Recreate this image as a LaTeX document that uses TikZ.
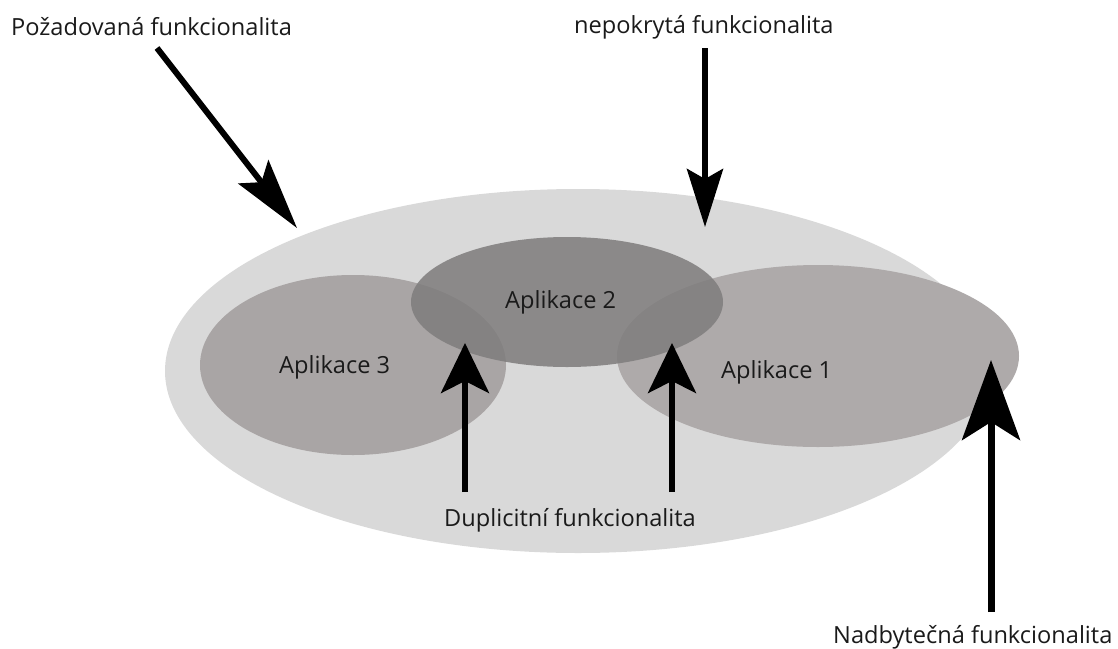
\documentclass[tikz,border=0pt]{standalone}
\usepackage{fontspec}
\setmainfont{Open Sans}
\usetikzlibrary{arrows.meta,shapes.geometric}
\definecolor{bigfill}{HTML}{D9D9D9}
\definecolor{appone}{HTML}{AEAAAA}
\definecolor{appthree}{HTML}{A9A5A5}
\definecolor{apptwo}{HTML}{7F7D7D}
\definecolor{txt}{HTML}{1A1A1A}
\begin{document}
\begin{tikzpicture}[x=1pt,y=-1pt,
  lbl/.style={font=\fontsize{23.6}{28}\selectfont, inner sep=0pt, anchor=base west, text=txt},
  oval/.style={ellipse, inner sep=0pt, draw=none},
  arr/.style={line width=6pt, draw=black}]
\useasboundingbox (0,0) rectangle (1118,648);
% ellipses
\node[oval, fill=bigfill, minimum width=826pt, minimum height=364pt] (req) at (578,371) {};
\node[oval, fill=appthree, minimum width=306pt, minimum height=180pt] (a3) at (353,365) {};
\node[oval, fill=appone, minimum width=402pt, minimum height=182pt] (a1) at (818,356) {};
\node[oval, fill=apptwo, fill opacity=0.86, minimum width=312pt, minimum height=130pt] (a2) at (567,302) {};
% labels
\node[lbl] (l2) at (505,308) {Aplikace 2};
\node[lbl] (l3) at (279,373) {Aplikace 3};
\node[lbl] (l1) at (721,378) {Aplikace 1};
\node[lbl] (lreq) at (11,35) {Požadovaná funkcionalita};
\node[lbl] (lnep) at (574,33) {nepokrytá funkcionalita};
\node[lbl] (ldup) at (444,526) {Duplicitní funkcionalita};
\node[lbl] (lnad) at (833,643) {Nadbytečná funkcionalita};
% arrow coordinates
\coordinate (t1) at (157,48);  \coordinate (h1) at (297,228);
\coordinate (t2) at (705,48);  \coordinate (h2) at (705,227);
\coordinate (t3) at (465,492); \coordinate (h3) at (465,343);
\coordinate (t4) at (672,492); \coordinate (h4) at (672,343);
\coordinate (t5) at (991,612); \coordinate (h5) at (991,360);
% arrows
\draw[arr, -{Stealth[length=71pt, width=38pt, inset=13pt]}] (t1) -- (h1);
\draw[arr, -{Stealth[length=58pt, width=36pt, inset=10pt]}] (t2) -- (h2);
\draw[arr, -{Stealth[length=50pt, width=48pt, inset=12pt]}] (t3) -- (h3);
\draw[arr, -{Stealth[length=50pt, width=48pt, inset=12pt]}] (t4) -- (h4);
\draw[arr, line width=7pt, -{Stealth[length=80pt, width=58pt, inset=18pt]}] (t5) -- (h5);
\end{tikzpicture}
\end{document}
